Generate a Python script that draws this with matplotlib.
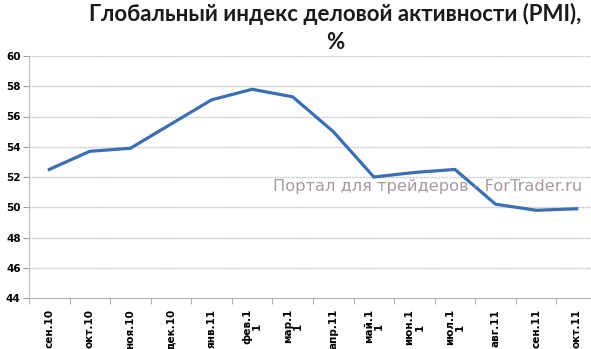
import matplotlib
matplotlib.use("Agg")
import matplotlib.pyplot as plt
import numpy as np

categories = ["сен.10", "окт.10", "ноя.10", "дек.10", "янв.11", "фев.1\n1", "мар.1\n1",
              "апр.11", "май.1\n1", "июн.1\n1", "июл.1\n1", "авг.11", "сен.11", "окт.11"]
pmi = [52.5, 53.7, 53.9, 55.5, 57.1, 57.8, 57.3, 55.0, 52.0, 52.3, 52.5, 50.2, 49.8, 49.9]
yticks = [44, 46, 48, 50, 52, 54, 56, 58, 60]

fig = plt.figure(figsize=(5.91, 3.49), dpi=100)
ax = fig.add_axes([29/591, 1-298/349, 568/591, (298-56)/349])

x = np.arange(len(categories))
ax.plot(x, pmi, color="#3a6fb5", lw=2.3, solid_joinstyle="round", zorder=3)

ax.set_xlim(-0.5, len(categories) - 0.5)
ax.set_ylim(44, 60)
ax.set_yticks(yticks)
ax.set_yticklabels([str(t) for t in yticks], fontsize=7.5, fontweight="bold", family="DejaVu Sans")
for t in yticks[1:]:
    ax.axhline(t, color="#cccccc", lw=1.0, ls=(0, (1.5, 0.5)), zorder=1)

ax.set_xticks(x)
ax.set_xticklabels(categories, rotation=90, fontsize=7.5, fontweight="bold",
                   family="DejaVu Sans", va="top", ha="center", linespacing=1.0)
ax.set_xticks(np.arange(-0.5, len(categories), 1), minor=True)
ax.tick_params(axis="x", which="major", length=0, pad=8)
ax.tick_params(axis="x", which="minor", length=4, color="#a0a0a0", direction="out")
ax.tick_params(axis="y", length=4, color="#a0a0a0", pad=2)

for s in ["top", "right"]:
    ax.spines[s].set_visible(False)
ax.spines["left"].set_color("#c0c0c0")
ax.spines["left"].set_linestyle((0, (1.5, 0.5)))
ax.spines["bottom"].set_color("#b0b0b0")

fig.text(335/591, 1-3/349, "Глобальный индекс деловой активности (PMI),\n%",
         ha="center", va="top", fontsize=16, fontweight="bold", color="#1a1a1a",
         family="Lato", linespacing=1.4)
fig.text(273/591, 1-186/349, "Портал для трейдеров - ForTrader.ru",
         ha="left", va="center", fontsize=11.7, color="#a89a9a", family="DejaVu Sans")

fig.savefig("out.png", dpi=100)
